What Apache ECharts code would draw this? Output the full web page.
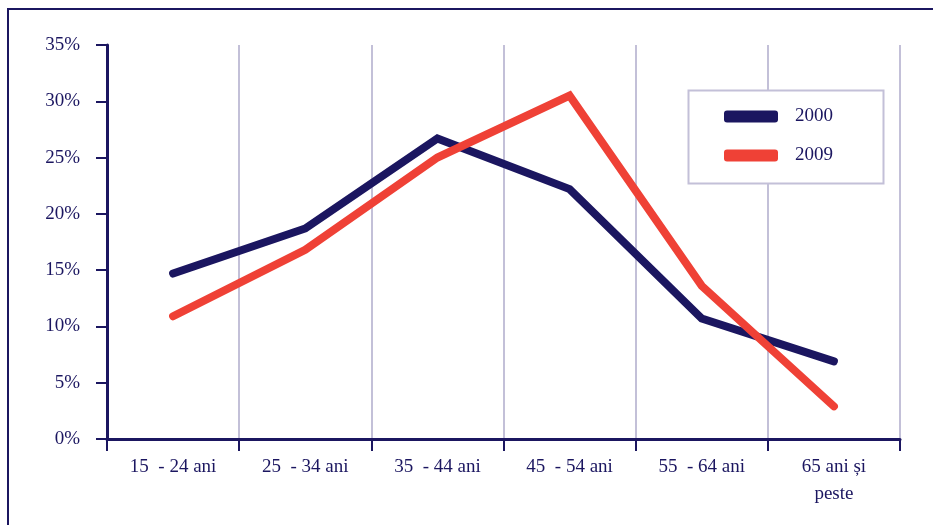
<!DOCTYPE html>
<html>
<head>
<meta charset="utf-8">
<script src="https://cdn.jsdelivr.net/npm/echarts@6/dist/echarts.min.js"></script>
<style>
  html, body { margin: 0; padding: 0; background: #fff; }
  #chart { width: 933px; height: 525px; }
</style>
</head>
<body>
<div id="chart"></div>
<script>
// date
const categories = ['15  - 24 ani', '25  - 34 ani', '35  - 44 ani', '45  - 54 ani', '55  - 64 ani', '65 ani și\npeste'];
const values2000 = [14.7, 18.7, 26.7, 22.2, 10.7, 6.9];
const values2009 = [10.9, 16.8, 25.0, 30.5, 13.6, 2.9];
const yTicks = [0, 5, 10, 15, 20, 25, 30, 35];

const navy = '#1b1660';
const red = '#ef4136';
const lavender = '#c3c0d8';
const font = 'Liberation Serif';

const chart = echarts.init(document.getElementById('chart'));

const option = {
  animation: false,
  textStyle: { fontFamily: font, color: navy },
  grid: { left: 107, right: 33, top: 45, bottom: 86 },
  graphic: [
    // cadrul exterior
    {
      type: 'rect',
      shape: { x: 8, y: 9, width: 940, height: 540 },
      style: { fill: null, stroke: navy, lineWidth: 2 },
      silent: true
    },
    // chenarul legendei
    {
      type: 'rect',
      shape: { x: 688.5, y: 90.5, width: 195, height: 93 },
      style: { fill: '#fff', stroke: lavender, lineWidth: 2 },
      z: 50,
      silent: true
    }
  ],
  legend: {
    orient: 'vertical',
    left: 724,
    top: 107,
    padding: 0,
    itemGap: 20,
    itemWidth: 54,
    itemHeight: 12,
    z: 60,
    textStyle: { fontFamily: font, color: navy, fontSize: 19, padding: [0, 0, 0, 12] },
    data: [
      { name: '2000', icon: 'roundRect' },
      { name: '2009', icon: 'roundRect' }
    ]
  },
  xAxis: {
    type: 'category',
    data: categories,
    boundaryGap: true,
    axisLine: { lineStyle: { color: navy, width: 3 } },
    axisTick: { show: true, length: 12, lineStyle: { color: navy, width: 2 } },
    axisLabel: { color: navy, fontFamily: font, fontSize: 19, margin: 15, lineHeight: 27, interval: 0 },
    splitLine: { show: true, lineStyle: { color: lavender, width: 2 } }
  },
  yAxis: {
    type: 'value',
    min: 0,
    max: 35,
    interval: 5,
    axisLine: { show: true, lineStyle: { color: navy, width: 3 } },
    axisTick: { show: true, length: 11, lineStyle: { color: navy, width: 2 } },
    axisLabel: {
      color: navy, fontFamily: font, fontSize: 19, margin: 27,
      formatter: v => (yTicks.includes(v) ? v + '%' : '')
    },
    splitLine: { show: false }
  },
  series: [
    {
      name: '2000',
      type: 'line',
      data: values2000,
      symbol: 'none',
      color: navy,
      lineStyle: { color: navy, width: 8, cap: 'round', join: 'miter' },
      z: 3
    },
    {
      name: '2009',
      type: 'line',
      data: values2009,
      symbol: 'none',
      color: red,
      lineStyle: { color: red, width: 8, cap: 'round', join: 'miter' },
      z: 4
    }
  ]
};

chart.setOption(option);
</script>
</body>
</html>
